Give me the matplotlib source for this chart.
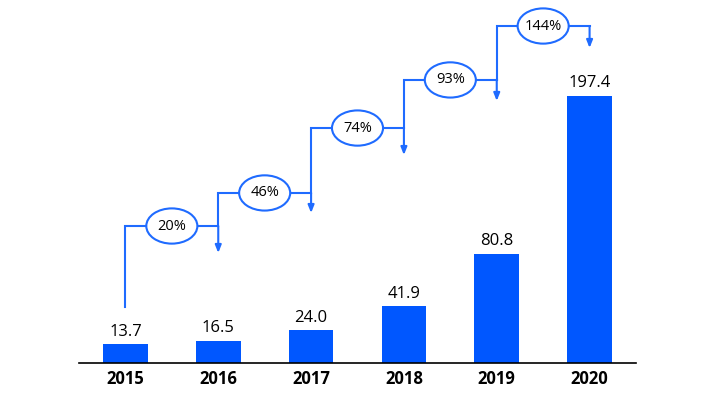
import matplotlib
matplotlib.use('Agg')
import matplotlib.pyplot as plt
from matplotlib.patches import Ellipse

years = ['2015', '2016', '2017', '2018', '2019', '2020']
values = [13.7, 16.5, 24.0, 41.9, 80.8, 197.4]
growth = ['20%', '46%', '74%', '93%', '144%']

# layout of the step arrows (data units on the y axis)
start_y = 41.3
bracket_y = [101.1, 125.5, 173.4, 208.9, 248.7]
arrow_end = [81.2, 110.7, 153.5, 193.4, 232.5]

bar_color = '#0057FF'
line_color = '#1F6BFF'

plt.rcParams['font.family'] = ['Open Sans', 'DejaVu Sans']

fig = plt.figure(figsize=(7.1, 3.95), dpi=100)
ax = fig.add_axes([79 / 710, 32 / 395, (636 - 79) / 710, 363 / 395])

x = list(range(len(years)))
bars = ax.bar(x, values, width=0.48, color=bar_color)
for xi, v in zip(x, values):
    ax.annotate(f'{v:.1f}', (xi, v), xytext=(0, 3), textcoords='offset points',
                ha='center', va='bottom', fontsize=12, color='black')

for i, lab in enumerate(growth):
    x0, x1 = x[i], x[i + 1]
    y = bracket_y[i]
    bottom = start_y if i == 0 else bracket_y[i - 1]
    ax.plot([x0, x0, x1], [bottom, y, y], color=line_color, lw=1.5,
            solid_joinstyle='miter', zorder=2)
    ax.annotate('', xy=(x1, arrow_end[i]), xytext=(x1, y),
                arrowprops=dict(arrowstyle='-|>,head_length=0.45,head_width=0.18',
                                color=line_color, lw=1.5, shrinkA=0, shrinkB=0))
    mid = (x0 + x1) / 2
    ax.add_patch(Ellipse((mid, y), 0.55, 26, facecolor='white',
                         edgecolor=line_color, lw=1.5, zorder=3))
    ax.text(mid, y, lab, ha='center', va='center', fontsize=10.5, zorder=4)

ax.set_xlim(-0.5, 5.5)
ax.set_ylim(0, 363 / 1.355)
ax.set_xticks(x)
ax.set_xticklabels(years)
for t in ax.get_xticklabels():
    t.set_fontsize(12)
    t.set_fontweight('bold')
ax.set_yticks([])
ax.tick_params(axis='x', length=0, pad=5)
for s in ['top', 'left', 'right']:
    ax.spines[s].set_visible(False)
ax.spines['bottom'].set_linewidth(1.2)

fig.savefig('out.png', dpi=100)
